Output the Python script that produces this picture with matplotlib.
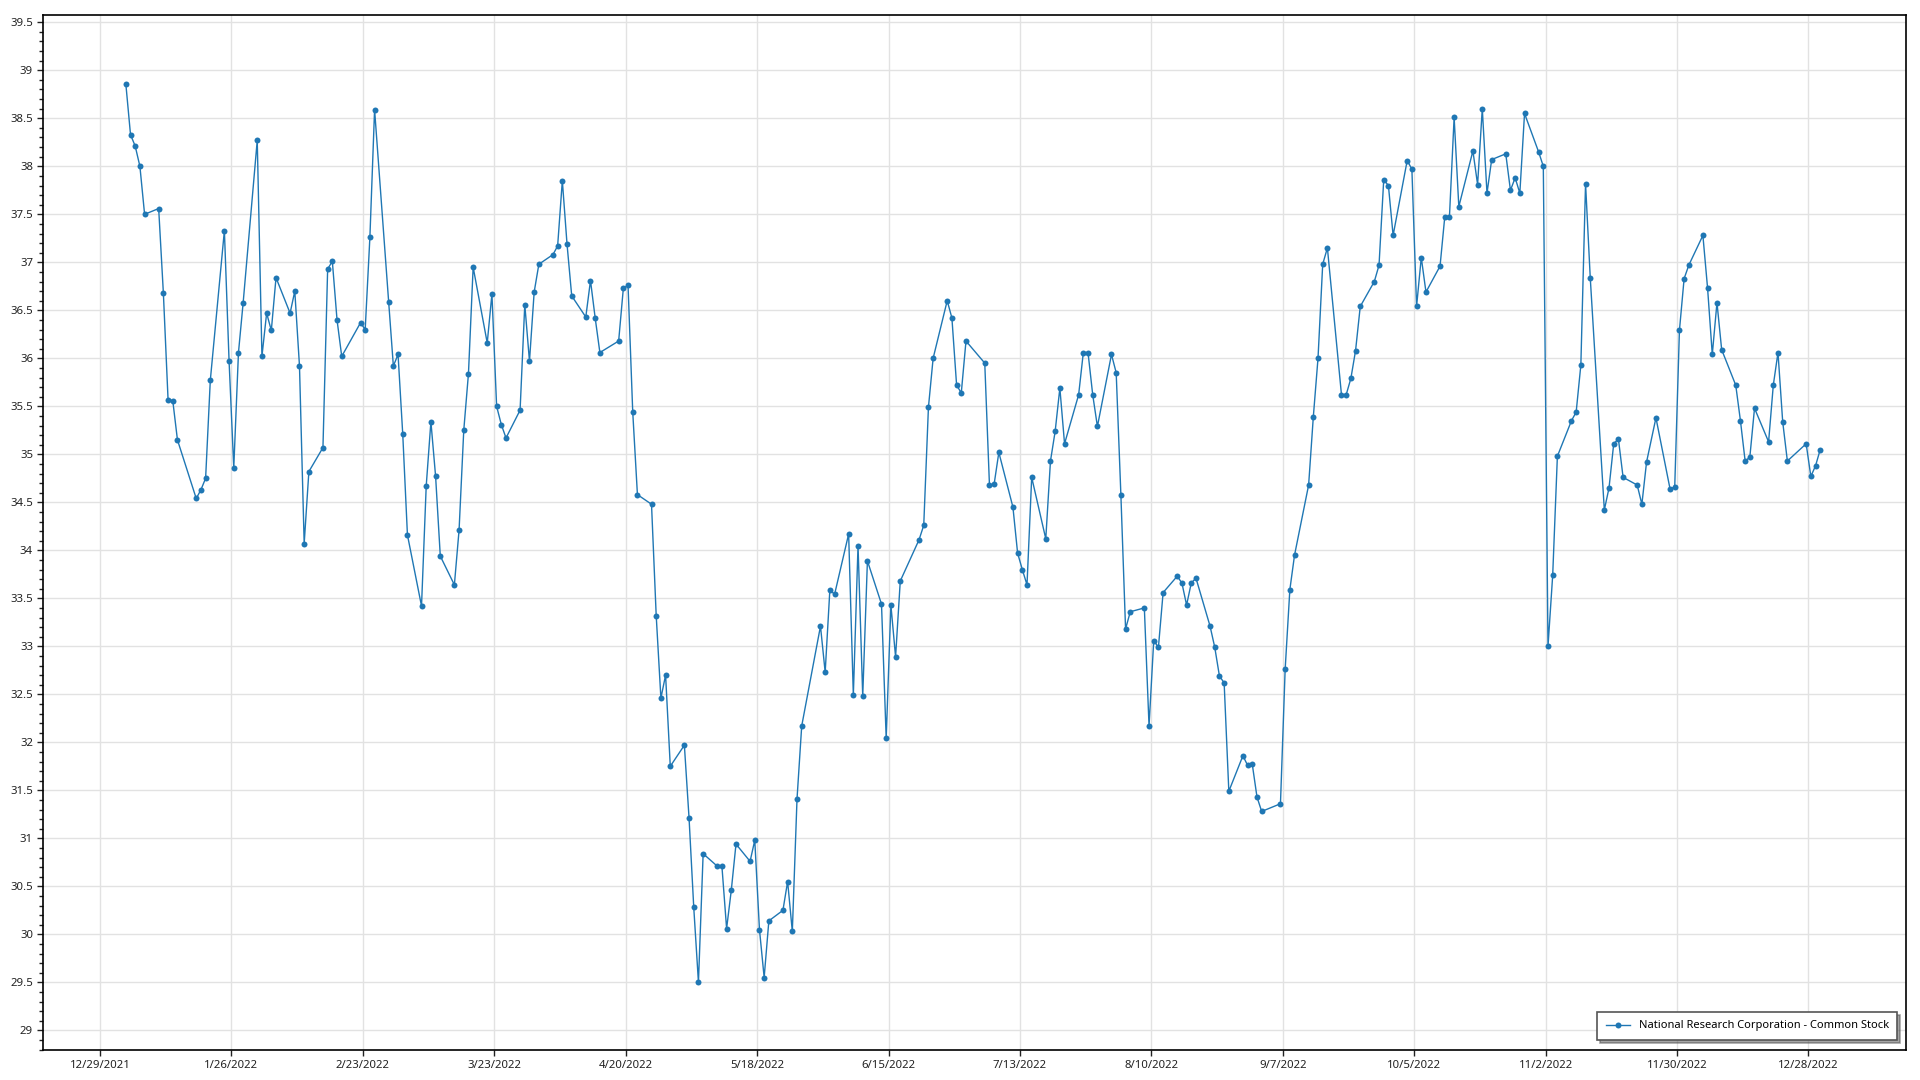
import matplotlib
matplotlib.use("Agg")
import matplotlib.pyplot as plt
import matplotlib.dates as mdates
from matplotlib.ticker import MultipleLocator, FuncFormatter, FixedLocator
import pandas as pd

plt.rcParams['font.family'] = ['Noto Sans', 'DejaVu Sans']

series_name = "National Research Corporation - Common Stock"

holidays = ["2022-01-17", "2022-02-21", "2022-04-15", "2022-05-30", "2022-06-20",
            "2022-07-04", "2022-09-05", "2022-11-24", "2022-12-26"]

jan = [38.86, 38.33, 38.21, 38.00, 37.50, 37.56, 36.68, 35.57, 35.56, 35.15, 34.54, 34.63,
       34.75, 35.77, 37.33, 35.97, 34.86, 36.06, 36.58, 38.27]
feb = [36.02, 36.47, 36.29, 36.84, 36.47, 36.70, 35.92, 34.07, 34.82, 35.07, 36.93, 37.01,
       36.40, 36.02, 36.37, 36.30, 37.26, 38.59, 36.59]
mar = [35.92, 36.04, 35.21, 34.16, 33.42, 34.67, 35.34, 34.77, 33.94, 33.64, 34.21, 35.25,
       35.84, 36.95, 36.16, 36.67, 35.50, 35.31, 35.17, 35.46, 36.56, 35.97, 36.69]
apr = [36.98, 37.08, 37.17, 37.85, 37.19, 36.65, 36.43, 36.81, 36.42, 36.06, 36.18, 36.73,
       36.76, 35.44, 34.58, 34.48, 33.32, 32.46, 32.70, 31.75]
may = [31.97, 31.21, 30.28, 29.50, 30.84, 30.71, 30.71, 30.06, 30.46, 30.94, 30.76, 30.98,
       30.05, 29.55, 30.14, 30.25, 30.55, 30.03, 31.41, 32.17, 33.21]
jun = [32.73, 33.59, 33.54, 34.17, 32.49, 34.05, 32.48, 33.89, 33.44, 32.04, 33.43, 32.89,
       33.68, 34.11, 34.26, 35.49, 36.00, 36.60, 36.42, 35.72, 35.64]
jul = [36.18, 35.95, 34.68, 34.69, 35.02, 34.45, 33.97, 33.80, 33.64, 34.76, 34.12, 34.93,
       35.24, 35.69, 35.11, 35.62, 36.06, 36.06, 35.62, 35.29]
aug = [36.04, 35.85, 34.58, 33.18, 33.36, 33.40, 32.17, 33.06, 32.99, 33.56, 33.73, 33.66,
       33.43, 33.66, 33.71, 33.21, 32.99, 32.69, 32.62, 31.49, 31.86, 31.76, 31.77]
sep = [31.43, 31.28, 31.36, 32.76, 33.59, 33.95, 34.68, 35.39, 36.00, 36.98, 37.15, 35.62,
       35.62, 35.79, 36.08, 36.54, 36.80, 36.97, 37.86, 37.80, 37.28]
oct_ = [38.06, 37.97, 36.54, 37.05, 36.69, 36.96, 37.47, 37.47, 38.51, 37.58, 38.16, 37.81,
        38.60, 37.72, 38.07, 38.13, 37.75, 37.88, 37.72, 38.55, 38.15]
nov = [38.00, 33.00, 33.74, 34.98, 35.35, 35.44, 35.93, 37.82, 36.84, 34.42, 34.65, 35.11,
       35.16, 34.76, 34.68, 34.48, 34.92, 35.38, 34.64, 34.66, 36.29]
dec = [36.83, 36.97, 37.28, 36.73, 36.04, 36.58, 36.09, 35.72, 35.35, 34.93, 34.97, 35.48,
       35.13, 35.72, 36.06, 35.34, 34.93, 35.11, 34.77, 34.88, 35.05]

x_tick_labels = ["12/29/2021", "1/26/2022", "2/23/2022", "3/23/2022", "4/20/2022",
                 "5/18/2022", "6/15/2022", "7/13/2022", "8/10/2022", "9/7/2022",
                 "10/5/2022", "11/2/2022", "11/30/2022", "12/28/2022"]

values = jan + feb + mar + apr + may + jun + jul + aug + sep + oct_ + nov + dec
days = pd.bdate_range("2022-01-03", "2022-12-30")
days = days[~days.isin(pd.to_datetime(holidays))] + pd.Timedelta(hours=12)

fig = plt.figure(figsize=(19.2, 10.8), dpi=100)
ax = fig.add_axes([0.02224, 0.02778, 0.99255 - 0.02224, 0.98611 - 0.02778])

ax.plot(days, values, color="#1f77b4", linewidth=1.0, marker="o", markersize=4.3,
        markeredgewidth=0, label=series_name, zorder=3)

ax.set_xlim(pd.Timestamp("2021-12-16 19:00"), pd.Timestamp("2023-01-17 17:00"))
ax.set_ylim(28.795, 39.576)

tick_dates = pd.to_datetime(x_tick_labels, format="%m/%d/%Y")
ax.xaxis.set_major_locator(FixedLocator(mdates.date2num(tick_dates)))
ax.set_xticklabels(x_tick_labels)

ax.yaxis.set_major_locator(MultipleLocator(0.5))
ax.yaxis.set_minor_locator(MultipleLocator(0.1))
ax.yaxis.set_major_formatter(FuncFormatter(lambda v, p: f"{v:g}"))

ax.grid(True, which="major", color="#e2e2e2", linewidth=1.0, zorder=0)
ax.set_axisbelow(True)

ax.tick_params(axis="both", which="major", labelsize=8.2, colors="#222222",
               length=4, width=1, pad=3)
ax.tick_params(axis="y", which="minor", length=3, width=1, color="#222222")
ax.tick_params(axis="x", which="minor", length=0)

for s in ax.spines.values():
    s.set_color("#000000")
    s.set_linewidth(1.2)

leg = ax.legend(loc="lower right", fancybox=False, shadow=True, framealpha=1,
                edgecolor="#555555", fontsize=8.0, borderpad=0.75, handlelength=2.2,
                bbox_to_anchor=(0.9985, 0.0045))
leg.get_frame().set_linewidth(1.2)

fig.savefig("out.png", dpi=100)
